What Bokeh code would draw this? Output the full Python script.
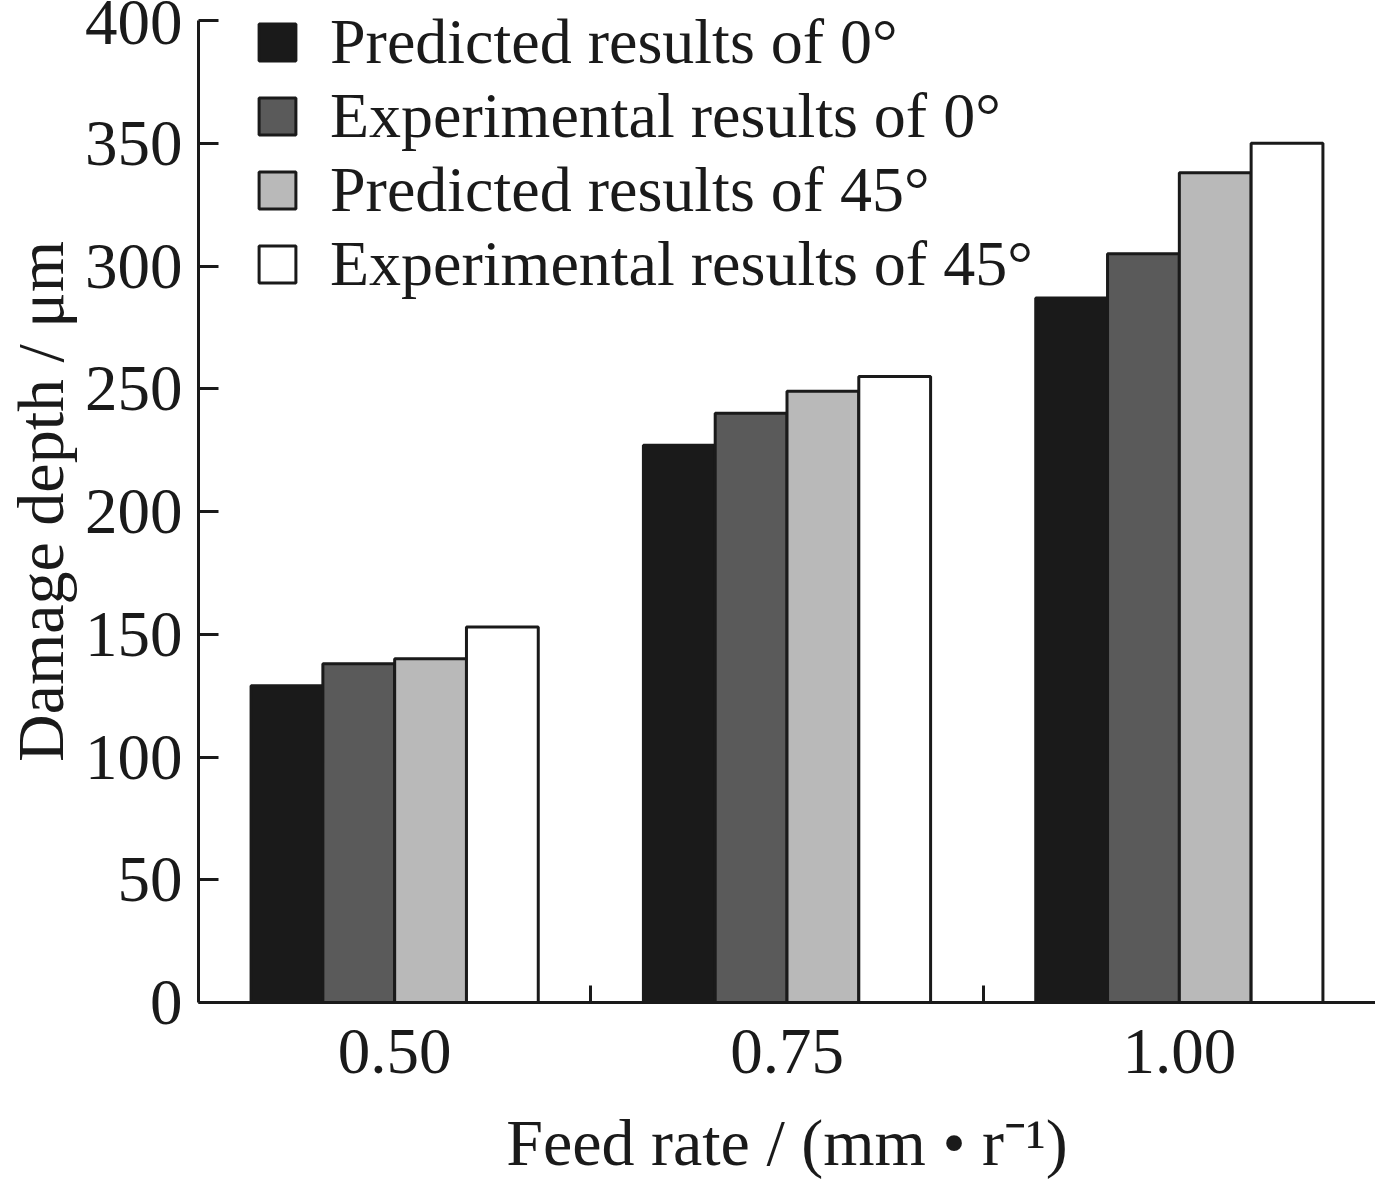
from bokeh.plotting import figure
from bokeh.models import ColumnDataSource, Range1d, FixedTicker, Legend, LegendItem
from bokeh.embed import file_html
from bokeh.resources import INLINE

feed_rates = ["0.50", "0.75", "1.00"]
series_names = ["Predicted results of 0°", "Experimental results of 0°",
                "Predicted results of 45°", "Experimental results of 45°"]
pred_0 = [129, 227, 287]
exp_0 = [138, 240, 305]
pred_45 = [140, 249, 338]
exp_45 = [153, 255, 350]
y_ticks = [0, 50, 100, 150, 200, 250, 300, 350, 400]

series_values = [pred_0, exp_0, pred_45, exp_45]
fills = ["#1a1a1a", "#5a5a5a", "#b9b9b9", "#ffffff"]
FONT = "Liberation Serif"

p = figure(width=1369, height=1163, frame_width=1177, frame_height=1002,
           min_border_left=192, min_border_right=0, min_border_top=0, min_border_bottom=150,
           x_range=Range1d(0, 3), y_range=Range1d(0, 408.15),
           output_backend="svg", toolbar_location=None)
p.outline_line_color = None
p.xgrid.visible = False
p.ygrid.visible = False

bw = 0.183
items = []
for k, (name, vals, col) in enumerate(zip(series_names, series_values, fills)):
    xs = [i + 0.5 + (k - 1.5) * bw for i in range(len(feed_rates))]
    src = ColumnDataSource(dict(x=xs, top=vals))
    r = p.vbar(x="x", top="top", bottom=0, width=bw, source=src,
               fill_color=col, line_color="#1a1a1a", line_width=3)
    items.append(LegendItem(label=name, renderers=[r]))

legend = Legend(items=items, location=(56, 701), margin=0, padding=0,
                glyph_width=46, glyph_height=46, label_height=46, spacing=0,
                label_standoff=30, label_text_font=FONT, label_text_font_size="64px",
                label_text_color="#1a1a1a",
                background_fill_alpha=0, border_line_color=None)
p.add_layout(legend)

# x axis
xa = p.xaxis[0]
xa.ticker = FixedTicker(ticks=[i + 0.5 for i in range(len(feed_rates))], minor_ticks=[1, 2])
xa.major_label_overrides = {i + 0.5: lab for i, lab in enumerate(feed_rates)}
xa.major_tick_in = 0
xa.major_tick_out = 0
xa.minor_tick_in = 17
xa.minor_tick_out = 0
xa.minor_tick_line_width = 3
xa.minor_tick_line_color = "#1a1a1a"
xa.axis_line_width = 3
xa.axis_line_color = "#1a1a1a"
xa.major_label_text_font = FONT
xa.major_label_text_font_size = "65px"
xa.major_label_text_color = "#1a1a1a"
xa.major_label_standoff = 27
xa.axis_label = "Feed rate / (mm • r⁻¹)"
xa.axis_label_text_font = FONT
xa.axis_label_text_font_size = "66px"
xa.axis_label_text_font_style = "normal"
xa.axis_label_text_color = "#1a1a1a"
xa.axis_label_standoff = 30

# y axis
ya = p.yaxis[0]
ya.ticker = FixedTicker(ticks=y_ticks, minor_ticks=[])
ya.bounds = (0, 400)
ya.major_tick_in = 20
ya.major_tick_out = 0
ya.major_tick_line_width = 3
ya.major_tick_line_color = "#1a1a1a"
ya.axis_line_width = 3
ya.axis_line_color = "#1a1a1a"
ya.major_label_text_font = FONT
ya.major_label_text_font_size = "65px"
ya.major_label_text_color = "#1a1a1a"
ya.major_label_standoff = 16
ya.axis_label = "Damage depth / μm"
ya.axis_label_text_font = FONT
ya.axis_label_text_font_size = "66px"
ya.axis_label_text_font_style = "normal"
ya.axis_label_text_color = "#1a1a1a"
ya.axis_label_standoff = 5

open("out.html", "w").write(file_html(p, INLINE))
